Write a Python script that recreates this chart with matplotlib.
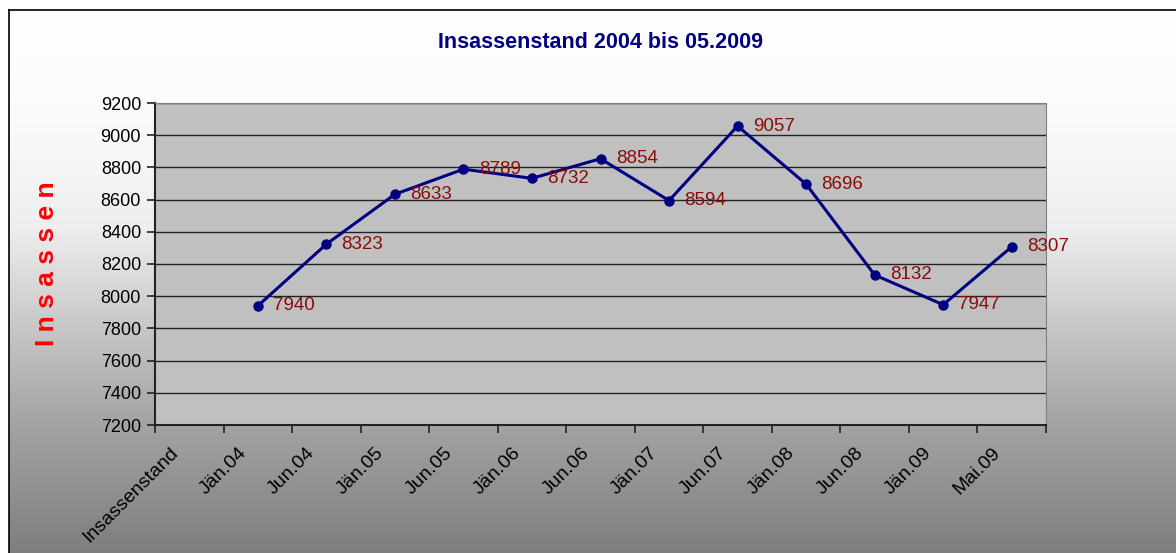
import numpy as np
import matplotlib
matplotlib.use("Agg")
import matplotlib.pyplot as plt

plt.rcParams['font.family'] = ['Liberation Sans', 'DejaVu Sans']

# --- data ---
categories = ["Insassenstand", "Jän.04", "Jun.04", "Jän.05", "Jun.05", "Jän.06", "Jun.06",
              "Jän.07", "Jun.07", "Jän.08", "Jun.08", "Jän.09", "Mai.09"]
values = [7940, 8323, 8633, 8789, 8732, 8854, 8594, 9057, 8696, 8132, 7947, 8307]
y_ticks = [7200, 7400, 7600, 7800, 8000, 8200, 8400, 8600, 8800, 9000, 9200]

W, H = 1176, 553
fig = plt.figure(figsize=(W / 100, H / 100), dpi=100)
fig.patch.set_facecolor('white')

# background panel with vertical gradient and black frame
bg = fig.add_axes([9 / W, -0.05, 1.05, 1.05 - 10 / H], zorder=-5)
ys = np.linspace(0, 1, 256)  # 0 = top, 1 = bottom
grey = np.interp(ys, [0.0, 0.2, 0.38, 0.7, 1.0], [255, 250, 238, 168, 118]) / 255
grad = np.repeat(grey[:, None], 2, axis=1)
bg.imshow(np.dstack([grad, grad, grad]), aspect='auto', extent=[0, 1, 0, 1])
bg.set_xticks([])
bg.set_yticks([])
for s in ['right', 'bottom']:
    bg.spines[s].set_visible(False)
for s in ['left', 'top']:
    bg.spines[s].set_color('black')
    bg.spines[s].set_linewidth(1.2)

ax = fig.add_axes([155 / W, 1 - 425 / H, (1046 - 155) / W, (425 - 103) / H])
ax.set_facecolor('#C0C0C0')

# first category ("Insassenstand") has no value
x_pos = np.arange(len(categories)) + 0.5
pts_x = x_pos[1:]
ax.plot(pts_x, values, color='#000080', lw=2.2, marker='o', ms=6.5, zorder=3)
for x, v in zip(pts_x, values):
    ax.annotate(str(v), (x, v), xytext=(11, 0), textcoords='offset points',
                va='center', ha='left', color='#8B0A0A', fontsize=13.5, zorder=4)

ax.set_xlim(0, len(categories))
ax.set_ylim(7200, 9200)
ax.set_yticks(y_ticks)
ax.set_yticklabels([str(t) for t in y_ticks], fontsize=13)
ax.grid(axis='y', color='#222222', lw=1.0)
ax.set_axisbelow(True)

# category boundaries get tick marks, labels sit (slightly left of) the centres
ax.set_xticks(np.arange(len(categories) + 1))
ax.set_xticklabels([])
ax.set_xticks(x_pos - 0.29, minor=True)
ax.set_xticklabels(categories, minor=True, rotation=45, ha='right', va='top',
                   rotation_mode='anchor', fontsize=14)
ax.tick_params(axis='x', which='minor', length=0, pad=14)
ax.tick_params(axis='x', which='major', length=6, width=1.2, color='#222222', direction='out')
ax.tick_params(axis='y', length=6, width=1.2, color='#222222', direction='out', pad=4)

ax.spines['left'].set_color('#222222')
ax.spines['left'].set_linewidth(1.5)
ax.spines['bottom'].set_color('#222222')
ax.spines['bottom'].set_linewidth(1.5)
ax.spines['top'].set_color('#808080')
ax.spines['right'].set_color('#808080')

fig.text(600 / W, 1 - 43 / H, "Insassenstand 2004 bis 05.2009", ha='center', va='center',
         fontsize=15.5, fontweight='bold', color='#000080')
fig.text(47 / W, 1 - 264 / H, "I n s a s s e n", ha='center', va='center', rotation=90,
         fontsize=19, fontweight='bold', color='#FF0000')

fig.savefig("out.png", dpi=100)
